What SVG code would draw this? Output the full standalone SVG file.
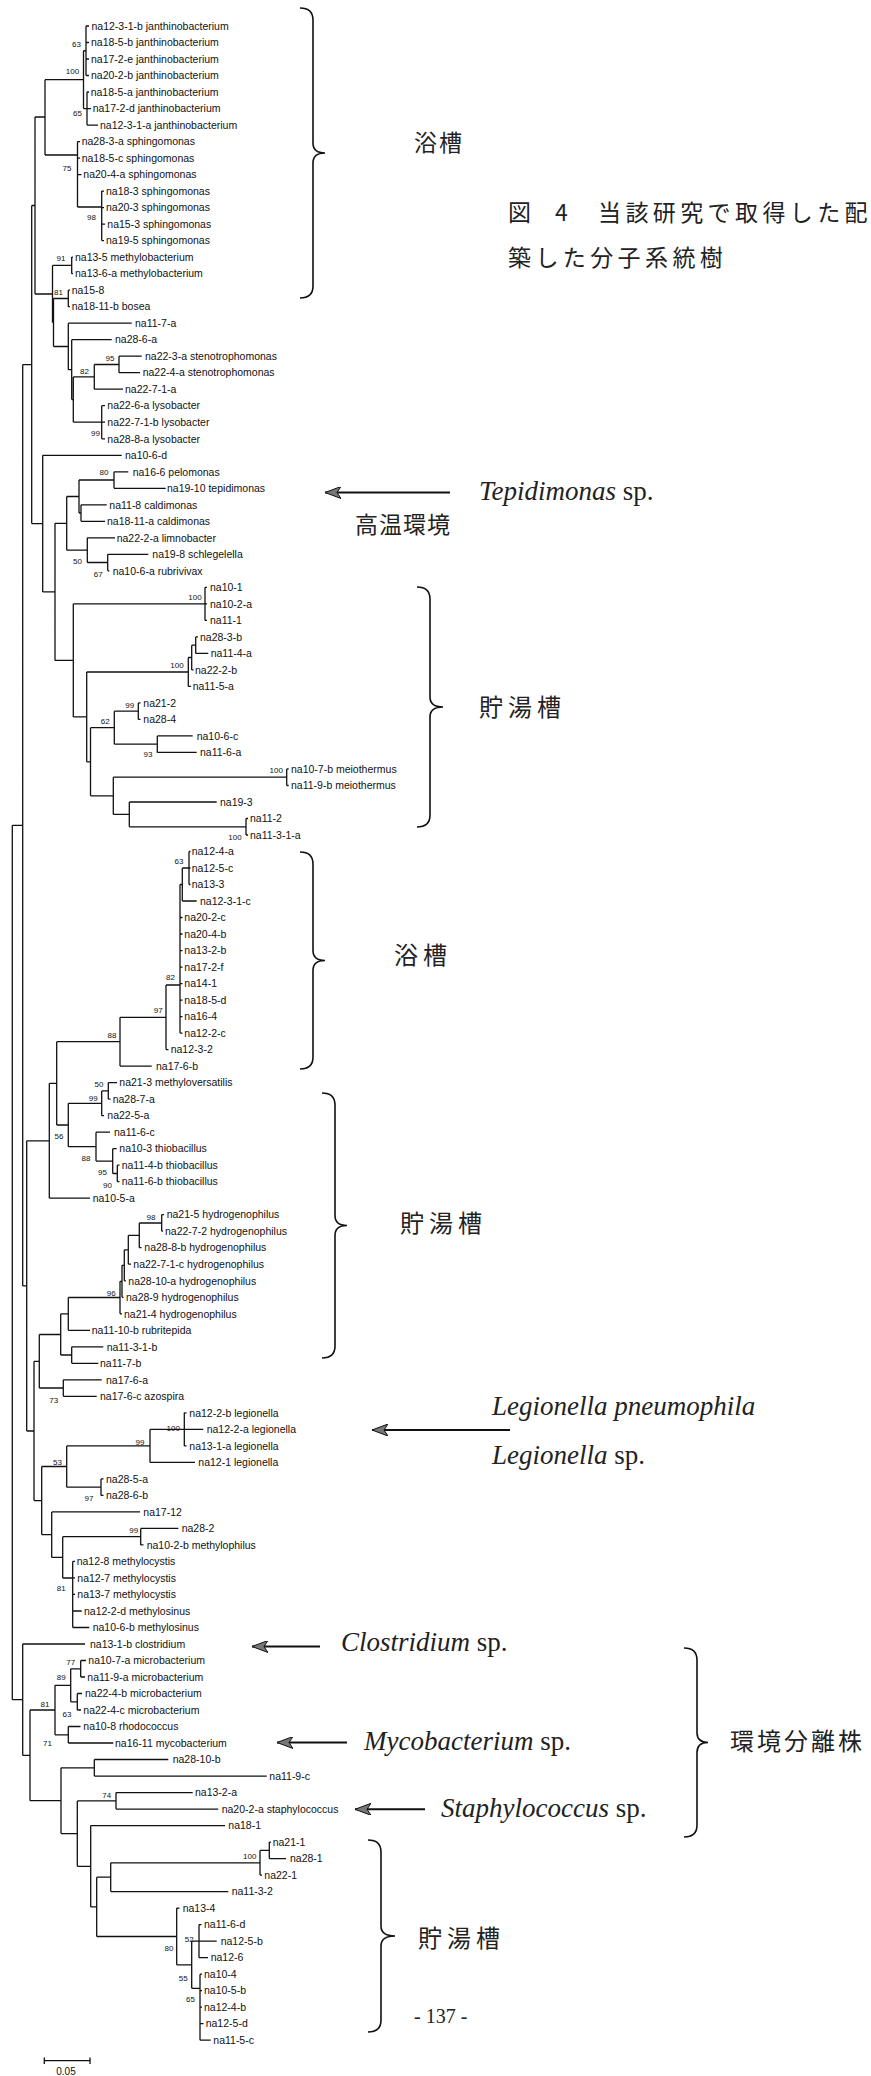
<svg xmlns="http://www.w3.org/2000/svg" width="871" height="2076" viewBox="0 0 871 2076">
<style>
.t{font-family:"Liberation Sans",Arial,sans-serif;font-size:10.5px;fill:#111}
.b{font-family:"Liberation Sans",Arial,sans-serif;font-size:8px;fill:#111;text-anchor:middle}
.e{fill:none;stroke:#111;stroke-width:1.3}
.br{fill:none;stroke:#111;stroke-width:1.6}
.jp{font-family:"Noto Sans CJK JP",sans-serif;font-size:24px;fill:#222;letter-spacing:5px}
.cap{font-family:"Noto Sans CJK JP",sans-serif;font-size:23px;fill:#222;letter-spacing:4.4px}
.it{font-family:"Liberation Serif",serif;font-size:27px;fill:#222}
.ar{fill:none;stroke:#111;stroke-width:2}
</style>
<defs>
<marker id="ah" viewBox="0 0 16 12" refX="16" refY="6" markerWidth="16" markerHeight="12" markerUnits="userSpaceOnUse" orient="auto-start-reverse">
<path d="M0,0 L16,6 L0,12 L4,6 Z" fill="#777" stroke="#111" stroke-width="1"/>
</marker>
</defs>
<g id="connectors">
<path class="e" d="M86,26V75.5M86,26H89M86,42.5H89M86,59H89M86,75.5H89
M87,92V125.1M87,92H89M87,108.6H91M87,125.1H98
M83.5,50.75V108.6M83.5,50.75H86M83.5,108.6H87
M101.7,191.1V240.6M101.7,191.1H104M101.7,207.6H104M101.7,224.1H105M101.7,240.6H104
M77.5,141.6V207M77.5,141.6H80M77.5,158.1H80M77.5,174.6H81.5M77.5,207H101.7
M45,79.7V155M45,79.7H83.5M45,155H77.5
M71.7,257.1V273.7M71.7,257.1H73M71.7,273.7H73
M68.3,290.2V306.7M68.3,290.2H70M68.3,306.7H70
M119,356.2V372.7M119,356.2H141.7M119,372.7H140
M94.3,364.5V389.2M94.3,364.5H119M94.3,389.2H123
M101.7,405.7V438.8M101.7,405.7H105M101.7,422.2H105M101.7,438.8H105
M73.3,376.9V422.2M73.3,376.9H94.3M73.3,422.2H101.7
M71.7,339.7V399.6M71.7,339.7H111.7M71.7,399.6H73.3
M68.3,323.2V369.7M68.3,323.2H131.7M68.3,369.7H71.7
M53.5,298.5V346.5M53.5,298.5H68.3M53.5,346.5H68.3
M52.5,265.4V322.5M52.5,265.4H71.7M52.5,322.5H53.5
M35,117V294M35,117H45M35,294H52.5
M114,471.8V488.3M114,471.8H128.3M114,488.3H165.7
M81,504.8V521.3M81,504.8H106.7M81,521.3H105
M79,480V513M79,480H114M79,513H81
M107.7,554.3V570.8M107.7,554.3H148.3M107.7,570.8H109.3
M87.3,537.8V562.5M87.3,537.8H115M87.3,562.5H107.7
M66.7,496.5V550.2M66.7,496.5H79M66.7,550.2H87.3
M205,587.3V620.4M205,587.3H207M205,603.8H207M205,620.4H207
M195.7,636.9V653.4M195.7,636.9H198M195.7,653.4H208.3
M191.7,645.2V669.9M191.7,645.2H195.7M191.7,669.9H193.5
M188.3,657.5V686.4M188.3,657.5H191.7M188.3,686.4H191
M138.3,702.9V719.4M138.3,702.9H140.5M138.3,719.4H140.5
M157.3,735.9V752.4M157.3,735.9H192.7M157.3,752.4H196.7
M114.3,711.2V744.2M114.3,711.2H138.3M114.3,744.2H157.3
M286.7,768.9V785.5M286.7,768.9H288.7M286.7,785.5H288.7
M246,818.5V835M246,818.5H248M246,835H248
M129.3,802V826.8M129.3,802H216.7M129.3,826.8H246
M113.3,777.2V814.4M113.3,777.2H286.7M113.3,814.4H129.3
M90.5,727.7V795.8M90.5,727.7H114.3M90.5,795.8H113.3
M86.7,672V761.8M86.7,672H188.3M86.7,761.8H90.5
M73.3,603.8V716.9M73.3,603.8H205M73.3,716.9H86.7
M55,523.3V660.4M55,523.3H66.7M55,660.4H73.3
M42.7,455.3V591.9M42.7,455.3H121.7M42.7,591.9H55
M31.7,205.5V523.6M31.7,205.5H35M31.7,523.6H42.7
M189,851.5V884.5M189,851.5H190.5M189,868H190.5M189,884.5H190.5
M182.3,868V901M182.3,868H189M182.3,901H196.7
M180,884.5V1033.1M180,884.5H182.3M180,917.5H182.5M180,934H182.5M180,950.6H182.5M180,967.1H182.5M180,983.6H182.5M180,1000.1H182.5M180,1016.6H182.5M180,1033.1H182.5
M166,985V1049.6M166,985H180M166,1049.6H168.5
M120,1017.3V1066.1M120,1017.3H166M120,1066.1H151.7
M108.3,1082.6V1099.1M108.3,1082.6H117M108.3,1099.1H110.5
M101.7,1090.9V1115.7M101.7,1090.9H108.3M101.7,1115.7H104
M117.3,1165.2V1181.7M117.3,1165.2H119.5M117.3,1181.7H119.5
M112.7,1148.7V1173.5M112.7,1148.7H116.7M112.7,1173.5H117.3
M96,1132.2V1161.1M96,1132.2H110M96,1161.1H112.7
M68.3,1103.3V1146.7M68.3,1103.3H101.7M68.3,1146.7H96
M56.7,1041.7V1125M56.7,1041.7H120M56.7,1125H68.3
M49.3,1083.4V1198.2M49.3,1083.4H56.7M49.3,1198.2H90
M161.7,1214.7V1231.2M161.7,1214.7H164M161.7,1231.2H163
M139.3,1223V1247.7M139.3,1223H161.7M139.3,1247.7H141.5
M128.3,1235.4V1264.2M128.3,1235.4H139.3M128.3,1264.2H131
M124.3,1249.8V1280.8M124.3,1249.8H128.3M124.3,1280.8H126
M122,1265.3V1297.3M122,1265.3H124.3M122,1297.3H123.5
M120,1281.3V1313.8M120,1281.3H122M120,1313.8H122
M68.3,1297.5V1330.3M68.3,1297.5H120M68.3,1330.3H90
M71.7,1346.8V1363.3M71.7,1346.8H103.3M71.7,1363.3H98.3
M60.7,1313.9V1355M60.7,1313.9H68.3M60.7,1355H71.7
M63.3,1379.8V1396.3M63.3,1379.8H101.7M63.3,1396.3H96.7
M39.3,1334.5V1388M39.3,1334.5H60.7M39.3,1388H63.3
M184.3,1412.8V1445.9M184.3,1412.8H186.5M184.3,1429.3H203.3M184.3,1445.9H186.5
M150,1429.3V1462.4M150,1429.3H184.3M150,1462.4H195
M101,1478.9V1495.4M101,1478.9H103.5M101,1495.4H103.5
M66.7,1445.9V1487.2M66.7,1445.9H150M66.7,1487.2H101
M140.7,1528.4V1544.9M140.7,1528.4H178.3M140.7,1544.9H143.5
M72.7,1561.4V1627.5M72.7,1561.4H75M72.7,1577.9H75M72.7,1594.4H75M72.7,1611H81.7M72.7,1627.5H89.3
M62.7,1536.7V1578M62.7,1536.7H140.7M62.7,1578H72.7
M51.7,1511.9V1557.4M51.7,1511.9H140M51.7,1557.4H62.7
M41.7,1466.5V1534.7M41.7,1466.5H66.7M41.7,1534.7H51.7
M34,1361.3V1500.6M34,1361.3H39.3M34,1500.6H41.7
M26.7,1140.8V1431M26.7,1140.8H49.3M26.7,1431H34
M22.7,364.6V1285.9M22.7,364.6H31.7M22.7,1285.9H26.7
M80.7,1660.5V1677M80.7,1660.5H86M80.7,1677H85
M77.3,1693.5V1710M77.3,1693.5H82M77.3,1710H81
M70.7,1668.8V1701.8M70.7,1668.8H80.7M70.7,1701.8H77.3
M68.3,1726.5V1743M68.3,1726.5H80.5M68.3,1743H113.3
M55,1685.3V1734.8M55,1685.3H70.7M55,1734.8H68.3
M94.3,1759.5V1776.1M94.3,1759.5H168.3M94.3,1776.1H266.7
M116,1792.6V1809.1M116,1792.6H192.7M116,1809.1H218.3
M269.3,1842.1V1858.6M269.3,1842.1H271M269.3,1858.6H286
M260,1850.4V1875.1M260,1850.4H269.3M260,1875.1H262
M110.7,1862.8V1891.6M110.7,1862.8H260M110.7,1891.6H228.3
M199,1924.6V1957.7M199,1924.6H201.5M199,1941.2H216.7M199,1957.7H208
M200,1974.2V2040.2M200,1974.2H202M200,1990.7H202M200,2007.2H202M200,2023.7H203.5M200,2040.2H210.7
M191.7,1941.2V1988.3M191.7,1941.2H199M191.7,1988.3H200
M176.7,1908.1V1964.8M176.7,1908.1H179.5M176.7,1964.8H191.7
M96.7,1877.2V1936.5M96.7,1877.2H110.7M96.7,1936.5H176.7
M90.7,1825.6V1906.9M90.7,1825.6H225M90.7,1906.9H96.7
M77.3,1800.9V1866.3M77.3,1800.9H116M77.3,1866.3H90.7
M61,1767.8V1833.6M61,1767.8H94.3M61,1833.6H77.3
M30,1710V1800.7M30,1710H55M30,1800.7H61
M22.7,1644V1755.4M22.7,1644H85M22.7,1755.4H30
M12.3,825.3V1699.7M12.3,825.3H22.7M12.3,1699.7H22.7"/>
<path class="e" d="M44.3,2060.7H90M44.3,2057.5V2064M90,2057.5V2064"/>
<line class="ar" x1="325" y1="492.5" x2="450" y2="492.5" marker-start="url(#ah)"/>
<line class="ar" x1="372" y1="1430" x2="510" y2="1430" marker-start="url(#ah)"/>
<line class="ar" x1="252" y1="1646.5" x2="320" y2="1646.5" marker-start="url(#ah)"/>
<line class="ar" x1="277" y1="1742.5" x2="347" y2="1742.5" marker-start="url(#ah)"/>
<line class="ar" x1="355" y1="1809.3" x2="425" y2="1809.3" marker-start="url(#ah)"/>
</g>
<g id="leaves">
<g id="L1"><text class="t" x="91.5" y="29.7">na12-3-1-b janthinobacterium</text></g>
<g id="L2"><text class="t" x="91" y="46.2">na18-5-b janthinobacterium</text></g>
<g id="L3"><text class="t" x="91" y="62.7">na17-2-e janthinobacterium</text></g>
<g id="L4"><text class="t" x="91" y="79.2">na20-2-b janthinobacterium</text></g>
<g id="L5"><text class="t" x="90.7" y="95.7">na18-5-a janthinobacterium</text></g>
<g id="L6"><text class="t" x="92.7" y="112.3">na17-2-d janthinobacterium</text></g>
<g id="L7"><text class="t" x="100" y="128.8">na12-3-1-a janthinobacterium</text></g>
<g id="L8"><text class="t" x="81.7" y="145.3">na28-3-a sphingomonas</text></g>
<g id="L9"><text class="t" x="81.7" y="161.8">na18-5-c sphingomonas</text></g>
<g id="L10"><text class="t" x="83.3" y="178.3">na20-4-a sphingomonas</text></g>
<g id="L11"><text class="t" x="106" y="194.8">na18-3 sphingomonas</text></g>
<g id="L12"><text class="t" x="106" y="211.3">na20-3 sphingomonas</text></g>
<g id="L13"><text class="t" x="107.3" y="227.8">na15-3 sphingomonas</text></g>
<g id="L14"><text class="t" x="106" y="244.3">na19-5 sphingomonas</text></g>
<g id="L15"><text class="t" x="75" y="260.8">na13-5 methylobacterium</text></g>
<g id="L16"><text class="t" x="75" y="277.4">na13-6-a methylobacterium</text></g>
<g id="L17"><text class="t" x="71.7" y="293.9">na15-8</text></g>
<g id="L18"><text class="t" x="71.7" y="310.4">na18-11-b bosea</text></g>
<g id="L19"><text class="t" x="135" y="326.9">na11-7-a</text></g>
<g id="L20"><text class="t" x="115" y="343.4">na28-6-a</text></g>
<g id="L21"><text class="t" x="145" y="359.9">na22-3-a stenotrophomonas</text></g>
<g id="L22"><text class="t" x="142.7" y="376.4">na22-4-a stenotrophomonas</text></g>
<g id="L23"><text class="t" x="125" y="392.9">na22-7-1-a</text></g>
<g id="L24"><text class="t" x="107.3" y="409.4">na22-6-a lysobacter</text></g>
<g id="L25"><text class="t" x="107.3" y="425.9">na22-7-1-b lysobacter</text></g>
<g id="L26"><text class="t" x="107.3" y="442.5">na28-8-a lysobacter</text></g>
<g id="L27"><text class="t" x="125" y="459">na10-6-d</text></g>
<g id="L28"><text class="t" x="132.7" y="475.5">na16-6 pelomonas</text></g>
<g id="L29"><text class="t" x="167" y="492">na19-10 tepidimonas</text></g>
<g id="L30"><text class="t" x="109.3" y="508.5">na11-8 caldimonas</text></g>
<g id="L31"><text class="t" x="107" y="525">na18-11-a caldimonas</text></g>
<g id="L32"><text class="t" x="116.7" y="541.5">na22-2-a limnobacter</text></g>
<g id="L33"><text class="t" x="152.3" y="558">na19-8 schlegelella</text></g>
<g id="L34"><text class="t" x="112.7" y="574.5">na10-6-a rubrivivax</text></g>
<g id="L35"><text class="t" x="210" y="591">na10-1</text></g>
<g id="L36"><text class="t" x="210" y="607.5">na10-2-a</text></g>
<g id="L37"><text class="t" x="210" y="624.1">na11-1</text></g>
<g id="L38"><text class="t" x="200" y="640.6">na28-3-b</text></g>
<g id="L39"><text class="t" x="210.7" y="657.1">na11-4-a</text></g>
<g id="L40"><text class="t" x="195" y="673.6">na22-2-b</text></g>
<g id="L41"><text class="t" x="192.7" y="690.1">na11-5-a</text></g>
<g id="L42"><text class="t" x="143.3" y="706.6">na21-2</text></g>
<g id="L43"><text class="t" x="143.3" y="723.1">na28-4</text></g>
<g id="L44"><text class="t" x="196.7" y="739.6">na10-6-c</text></g>
<g id="L45"><text class="t" x="200" y="756.1">na11-6-a</text></g>
<g id="L46"><text class="t" x="291" y="772.6">na10-7-b meiothermus</text></g>
<g id="L47"><text class="t" x="291" y="789.2">na11-9-b meiothermus</text></g>
<g id="L48"><text class="t" x="220" y="805.7">na19-3</text></g>
<g id="L49"><text class="t" x="250" y="822.2">na11-2</text></g>
<g id="L50"><text class="t" x="250" y="838.7">na11-3-1-a</text></g>
<g id="L51"><text class="t" x="191.7" y="855.2">na12-4-a</text></g>
<g id="L52"><text class="t" x="191.7" y="871.7">na12-5-c</text></g>
<g id="L53"><text class="t" x="191.7" y="888.2">na13-3</text></g>
<g id="L54"><text class="t" x="200" y="904.7">na12-3-1-c</text></g>
<g id="L55"><text class="t" x="184.3" y="921.2">na20-2-c</text></g>
<g id="L56"><text class="t" x="184.3" y="937.7">na20-4-b</text></g>
<g id="L57"><text class="t" x="184.3" y="954.3">na13-2-b</text></g>
<g id="L58"><text class="t" x="184.3" y="970.8">na17-2-f</text></g>
<g id="L59"><text class="t" x="184.3" y="987.3">na14-1</text></g>
<g id="L60"><text class="t" x="184.3" y="1003.8">na18-5-d</text></g>
<g id="L61"><text class="t" x="184.3" y="1020.3">na16-4</text></g>
<g id="L62"><text class="t" x="184.3" y="1036.8">na12-2-c</text></g>
<g id="L63"><text class="t" x="170.7" y="1053.3">na12-3-2</text></g>
<g id="L64"><text class="t" x="156" y="1069.8">na17-6-b</text></g>
<g id="L65"><text class="t" x="119.3" y="1086.3">na21-3 methyloversatilis</text></g>
<g id="L66"><text class="t" x="112.7" y="1102.8">na28-7-a</text></g>
<g id="L67"><text class="t" x="107.3" y="1119.4">na22-5-a</text></g>
<g id="L68"><text class="t" x="114" y="1135.9">na11-6-c</text></g>
<g id="L69"><text class="t" x="119.3" y="1152.4">na10-3 thiobacillus</text></g>
<g id="L70"><text class="t" x="121.7" y="1168.9">na11-4-b thiobacillus</text></g>
<g id="L71"><text class="t" x="121.7" y="1185.4">na11-6-b thiobacillus</text></g>
<g id="L72"><text class="t" x="92.7" y="1201.9">na10-5-a</text></g>
<g id="L73"><text class="t" x="166.7" y="1218.4">na21-5 hydrogenophilus</text></g>
<g id="L74"><text class="t" x="165" y="1234.9">na22-7-2 hydrogenophilus</text></g>
<g id="L75"><text class="t" x="144.3" y="1251.4">na28-8-b hydrogenophilus</text></g>
<g id="L76"><text class="t" x="133.3" y="1267.9">na22-7-1-c hydrogenophilus</text></g>
<g id="L77"><text class="t" x="128.3" y="1284.5">na28-10-a hydrogenophilus</text></g>
<g id="L78"><text class="t" x="126" y="1301">na28-9 hydrogenophilus</text></g>
<g id="L79"><text class="t" x="124" y="1317.5">na21-4 hydrogenophilus</text></g>
<g id="L80"><text class="t" x="91.7" y="1334">na11-10-b rubritepida</text></g>
<g id="L81"><text class="t" x="106.7" y="1350.5">na11-3-1-b</text></g>
<g id="L82"><text class="t" x="100" y="1367">na11-7-b</text></g>
<g id="L83"><text class="t" x="106" y="1383.5">na17-6-a</text></g>
<g id="L84"><text class="t" x="100" y="1400">na17-6-c azospira</text></g>
<g id="L85"><text class="t" x="189.3" y="1416.5">na12-2-b legionella</text></g>
<g id="L86"><text class="t" x="206.7" y="1433">na12-2-a legionella</text></g>
<g id="L87"><text class="t" x="189.3" y="1449.6">na13-1-a legionella</text></g>
<g id="L88"><text class="t" x="198.3" y="1466.1">na12-1 legionella</text></g>
<g id="L89"><text class="t" x="106" y="1482.6">na28-5-a</text></g>
<g id="L90"><text class="t" x="106" y="1499.1">na28-6-b</text></g>
<g id="L91"><text class="t" x="143.3" y="1515.6">na17-12</text></g>
<g id="L92"><text class="t" x="181.7" y="1532.1">na28-2</text></g>
<g id="L93"><text class="t" x="146.7" y="1548.6">na10-2-b methylophilus</text></g>
<g id="L94"><text class="t" x="76.7" y="1565.1">na12-8 methylocystis</text></g>
<g id="L95"><text class="t" x="77.3" y="1581.6">na12-7 methylocystis</text></g>
<g id="L96"><text class="t" x="77.3" y="1598.1">na13-7 methylocystis</text></g>
<g id="L97"><text class="t" x="84" y="1614.7">na12-2-d methylosinus</text></g>
<g id="L98"><text class="t" x="92.7" y="1631.2">na10-6-b methylosinus</text></g>
<g id="L99"><text class="t" x="90" y="1647.7">na13-1-b clostridium</text></g>
<g id="L100"><text class="t" x="88.3" y="1664.2">na10-7-a microbacterium</text></g>
<g id="L101"><text class="t" x="87.3" y="1680.7">na11-9-a microbacterium</text></g>
<g id="L102"><text class="t" x="85" y="1697.2">na22-4-b microbacterium</text></g>
<g id="L103"><text class="t" x="83.3" y="1713.7">na22-4-c microbacterium</text></g>
<g id="L104"><text class="t" x="83.3" y="1730.2">na10-8 rhodococcus</text></g>
<g id="L105"><text class="t" x="115" y="1746.7">na16-11 mycobacterium</text></g>
<g id="L106"><text class="t" x="172.7" y="1763.2">na28-10-b</text></g>
<g id="L107"><text class="t" x="269.3" y="1779.8">na11-9-c</text></g>
<g id="L108"><text class="t" x="195" y="1796.3">na13-2-a</text></g>
<g id="L109"><text class="t" x="221.7" y="1812.8">na20-2-a staphylococcus</text></g>
<g id="L110"><text class="t" x="228.3" y="1829.3">na18-1</text></g>
<g id="L111"><text class="t" x="272.7" y="1845.8">na21-1</text></g>
<g id="L112"><text class="t" x="290" y="1862.3">na28-1</text></g>
<g id="L113"><text class="t" x="264.3" y="1878.8">na22-1</text></g>
<g id="L114"><text class="t" x="231.7" y="1895.3">na11-3-2</text></g>
<g id="L115"><text class="t" x="182.7" y="1911.8">na13-4</text></g>
<g id="L116"><text class="t" x="204" y="1928.3">na11-6-d</text></g>
<g id="L117"><text class="t" x="220.7" y="1944.9">na12-5-b</text></g>
<g id="L118"><text class="t" x="210.7" y="1961.4">na12-6</text></g>
<g id="L119"><text class="t" x="204" y="1977.9">na10-4</text></g>
<g id="L120"><text class="t" x="204" y="1994.4">na10-5-b</text></g>
<g id="L121"><text class="t" x="204" y="2010.9">na12-4-b</text></g>
<g id="L122"><text class="t" x="205.7" y="2027.4">na12-5-d</text></g>
<g id="L123"><text class="t" x="213.3" y="2043.9">na11-5-c</text></g>
</g>
<g id="bootstrap">
<text class="b" x="76.5" y="47">63</text>
<text class="b" x="72.5" y="73.7">100</text>
<text class="b" x="77.5" y="116.3">65</text>
<text class="b" x="67" y="171.3">75</text>
<text class="b" x="91.5" y="219.7">98</text>
<text class="b" x="61" y="261.3">91</text>
<text class="b" x="58.5" y="294.7">81</text>
<text class="b" x="110" y="360.7">95</text>
<text class="b" x="84.5" y="373.7">82</text>
<text class="b" x="95.5" y="436.3">99</text>
<text class="b" x="104" y="475.3">80</text>
<text class="b" x="77.5" y="564">50</text>
<text class="b" x="98.3" y="577">67</text>
<text class="b" x="195" y="599.7">100</text>
<text class="b" x="177" y="668">100</text>
<text class="b" x="129.7" y="708">99</text>
<text class="b" x="105.3" y="724">62</text>
<text class="b" x="148" y="757.3">93</text>
<text class="b" x="276.3" y="773">100</text>
<text class="b" x="235" y="840.3">100</text>
<text class="b" x="179" y="863.7">63</text>
<text class="b" x="170.5" y="980.3">82</text>
<text class="b" x="158.3" y="1013">97</text>
<text class="b" x="112" y="1038">88</text>
<text class="b" x="99" y="1087.3">50</text>
<text class="b" x="93.3" y="1100.7">99</text>
<text class="b" x="59" y="1139">56</text>
<text class="b" x="86" y="1161.3">88</text>
<text class="b" x="102.5" y="1174.7">95</text>
<text class="b" x="107.5" y="1188">90</text>
<text class="b" x="151" y="1219.7">98</text>
<text class="b" x="111.3" y="1295.7">96</text>
<text class="b" x="53.7" y="1403">73</text>
<text class="b" x="173.3" y="1430.7">100</text>
<text class="b" x="140" y="1444.7">99</text>
<text class="b" x="57.5" y="1464.7">53</text>
<text class="b" x="89" y="1500.7">97</text>
<text class="b" x="133.7" y="1533">99</text>
<text class="b" x="61.2" y="1590.7">81</text>
<text class="b" x="70.8" y="1664.7">77</text>
<text class="b" x="61.2" y="1680.3">89</text>
<text class="b" x="45" y="1707">81</text>
<text class="b" x="67" y="1717">63</text>
<text class="b" x="47.5" y="1746.3">71</text>
<text class="b" x="106.7" y="1798">74</text>
<text class="b" x="249.7" y="1859">100</text>
<text class="b" x="189.2" y="1942.3">52</text>
<text class="b" x="169" y="1950.5">80</text>
<text class="b" x="183.3" y="1981.3">55</text>
<text class="b" x="190.5" y="2002">65</text>
</g>
<g id="scale">
<text class="t" x="66" y="2075" text-anchor="middle" style="font-size:10px">0.05</text>
</g>
<g id="annotations">
<path class="br" d="M300,8 Q313,8 313,20 V143 Q313,153 325,153 Q313,153 313,163 V286 Q313,298 300,298"/>
<path class="br" d="M417,587 Q430,587 430,599 V697 Q430,707 443,707 Q430,707 430,717 V815 Q430,827 417,827"/>
<path class="br" d="M300,852 Q313,852 313,864 V950.5 Q313,960.5 325,960.5 Q313,960.5 313,970.5 V1057 Q313,1069 300,1069"/>
<path class="br" d="M322,1093 Q335,1093 335,1105 V1215.5 Q335,1225.5 347,1225.5 Q335,1225.5 335,1235.5 V1346 Q335,1358 322,1358"/>
<path class="br" d="M684,1648 Q697,1648 697,1660 V1732.5 Q697,1742.5 708,1742.5 Q697,1742.5 697,1752.5 V1825 Q697,1837 684,1837"/>
<path class="br" d="M368,1840 Q381,1840 381,1852 V1926 Q381,1936 395,1936 Q381,1936 381,1946 V2020 Q381,2032 368,2032"/>
<text class="jp" x="414" y="151" style="font-size:23px;letter-spacing:2px">浴槽</text>
<text class="cap" y="221"><tspan x="508">図</tspan><tspan x="555">4</tspan><tspan x="598">当該研究で取得した配</tspan></text>
<text class="cap" x="508" y="266">築した分子系統樹</text>
<text class="it" x="479" y="500"><tspan font-style="italic">Tepidimonas</tspan> sp.</text>
<text class="jp" x="355" y="533" style="font-size:23px;letter-spacing:1px">高温環境</text>
<text class="jp" x="479" y="716">貯湯槽</text>
<text class="jp" x="394" y="964">浴槽</text>
<text class="jp" x="400" y="1232">貯湯槽</text>
<text class="it" x="492" y="1415" font-style="italic">Legionella pneumophila</text>
<text class="it" x="492" y="1464"><tspan font-style="italic">Legionella</tspan> sp.</text>
<text class="it" x="341" y="1651"><tspan font-style="italic">Clostridium</tspan> sp.</text>
<text class="it" x="364" y="1750"><tspan font-style="italic">Mycobacterium</tspan> sp.</text>
<text class="it" x="441" y="1817"><tspan font-style="italic">Staphylococcus</tspan> sp.</text>
<text class="jp" x="730" y="1750" style="letter-spacing:3px">環境分離株</text>
<text class="jp" x="418" y="1947">貯湯槽</text>
<text class="it" x="414" y="2023" style="font-size:20px">- 137 -</text>
</g>
</svg>
